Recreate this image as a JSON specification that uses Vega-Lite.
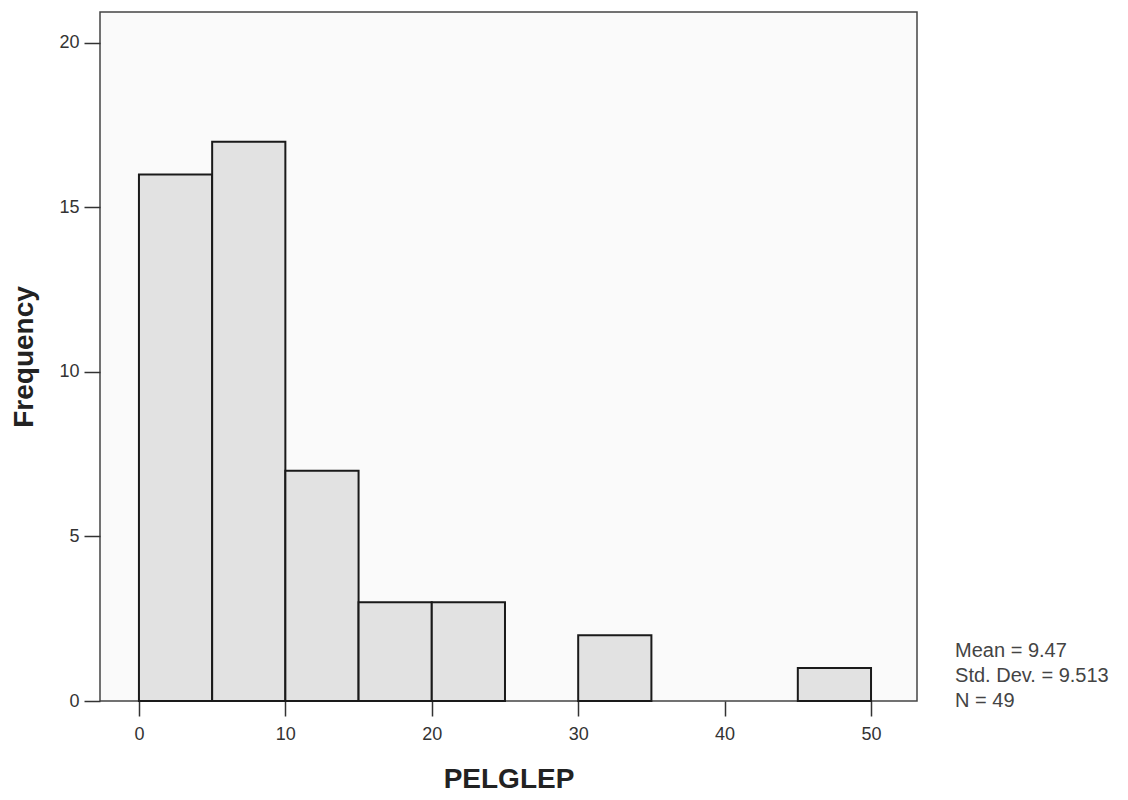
{
  "$schema": "https://vega.github.io/schema/vega-lite/v6.json",
  "width": 817,
  "height": 689,
  "autosize": {"type": "none"},
  "padding": {"left": 100, "top": 12, "right": 211, "bottom": 99},
  "background": "white",
  "config": {
    "font": "Liberation Sans",
    "view": {"fill": "#fafafa", "stroke": "#444", "strokeWidth": 1.5},
    "axis": {
      "domain": false,
      "grid": false,
      "tickColor": "#333",
      "tickWidth": 1.5,
      "labelColor": "#333",
      "labelFontSize": 18,
      "titleFontSize": 28,
      "titleFontWeight": "bold",
      "titleColor": "#222"
    }
  },
  "layer": [
    {
      "data": {
        "values": [
          {"bin_start": 0, "bin_end": 5, "count": 16},
          {"bin_start": 5, "bin_end": 10, "count": 17},
          {"bin_start": 10, "bin_end": 15, "count": 7},
          {"bin_start": 15, "bin_end": 20, "count": 3},
          {"bin_start": 20, "bin_end": 25, "count": 3},
          {"bin_start": 25, "bin_end": 30, "count": 0},
          {"bin_start": 30, "bin_end": 35, "count": 2},
          {"bin_start": 35, "bin_end": 40, "count": 0},
          {"bin_start": 40, "bin_end": 45, "count": 0},
          {"bin_start": 45, "bin_end": 50, "count": 1}
        ]
      },
      "transform": [{"filter": "datum.count > 0"}],
      "mark": {"type": "bar", "fill": "#e2e2e2", "stroke": "#1a1a1a", "strokeWidth": 2},
      "encoding": {
        "x": {
          "field": "bin_start",
          "type": "quantitative",
          "scale": {"domain": [-2.66, 53.14], "nice": false, "zero": false},
          "axis": {"values": [0, 10, 20, 30, 40, 50], "tickSize": 15, "labelPadding": 9, "title": "PELGLEP", "titlePadding": 22}
        },
        "x2": {"field": "bin_end"},
        "y": {
          "field": "count",
          "type": "quantitative",
          "scale": {"domain": [0, 20.94], "nice": false},
          "axis": {"values": [0, 5, 10, 15, 20], "tickSize": 16, "labelPadding": 5, "title": "Frequency", "titlePadding": 20}
        },
        "y2": {"datum": 0}
      }
    },
    {
      "data": {"values": [{"mean": 9.47, "sd": 9.513, "n": 49}]},
      "mark": {
        "type": "text",
        "align": "left",
        "baseline": "alphabetic",
        "fontSize": 20,
        "lineHeight": 25,
        "color": "#444",
        "clip": false
      },
      "encoding": {
        "x": {"datum": 55.74, "type": "quantitative"},
        "y": {"datum": 1.34, "type": "quantitative"},
        "text": {"value": ["Mean = 9.47", "Std. Dev. = 9.513", "N = 49"]}
      }
    }
  ]
}
